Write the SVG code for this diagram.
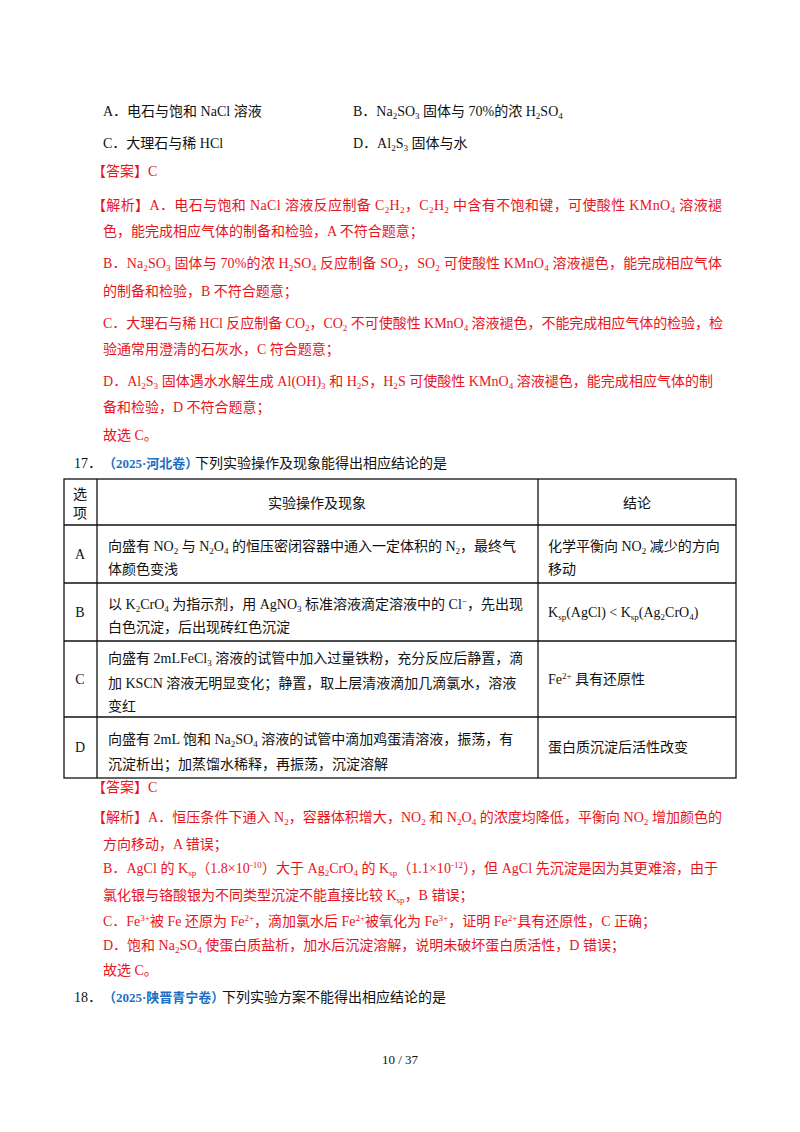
<svg xmlns="http://www.w3.org/2000/svg" width="800" height="1132" viewBox="0 0 800 1132">
<style>
text{font-family:"Liberation Serif","Noto Sans CJK SC",serif;font-size:14px;fill:#111}
.r{fill:#e8141c}
.b{fill:#1a6fc4;font-weight:bold;font-size:13px}
.s{font-size:9px}
.t{fill:none;stroke:#111;stroke-width:1.3}
</style>
<rect width="800" height="1132" fill="#fff"/>
<g id="options">
<text x="103" y="116">A．电石与饱和 NaCl 溶液</text>
<text x="353" y="116">B．Na<tspan class="s" dy="3">2</tspan><tspan dy="-3">SO</tspan><tspan class="s" dy="3">3</tspan><tspan dy="-3"> 固体与 70%的浓 H</tspan><tspan class="s" dy="3">2</tspan><tspan dy="-3">SO</tspan><tspan class="s" dy="3">4</tspan></text>
<text x="103" y="148">C．大理石与稀 HCl</text>
<text x="353" y="148">D．Al<tspan class="s" dy="3">2</tspan><tspan dy="-3">S</tspan><tspan class="s" dy="3">3</tspan><tspan dy="-3"> 固体与水</tspan></text>
</g>
<g id="answer16" class="r">
<text class="r" x="92" y="176">【答案】C</text>
<text class="r" x="92" y="210" textLength="630">【解析】A．电石与饱和 NaCl 溶液反应制备 C<tspan class="s" dy="3">2</tspan><tspan dy="-3">H</tspan><tspan class="s" dy="3">2</tspan><tspan dy="-3">，C</tspan><tspan class="s" dy="3">2</tspan><tspan dy="-3">H</tspan><tspan class="s" dy="3">2</tspan><tspan dy="-3"> 中含有不饱和键，可使酸性 KMnO</tspan><tspan class="s" dy="3">4</tspan><tspan dy="-3"> 溶液褪</tspan></text>
<text class="r" x="103" y="236">色，能完成相应气体的制备和检验，A 不符合题意；</text>
<text class="r" x="103" y="268" textLength="619">B．Na<tspan class="s" dy="3">2</tspan><tspan dy="-3">SO</tspan><tspan class="s" dy="3">3</tspan><tspan dy="-3"> 固体与 70%的浓 H</tspan><tspan class="s" dy="3">2</tspan><tspan dy="-3">SO</tspan><tspan class="s" dy="3">4</tspan><tspan dy="-3"> 反应制备 SO</tspan><tspan class="s" dy="3">2</tspan><tspan dy="-3">，SO</tspan><tspan class="s" dy="3">2</tspan><tspan dy="-3"> 可使酸性 KMnO</tspan><tspan class="s" dy="3">4</tspan><tspan dy="-3"> 溶液褪色，能完成相应气体</tspan></text>
<text class="r" x="103" y="296">的制备和检验，B 不符合题意；</text>
<text class="r" x="103" y="328" textLength="620">C．大理石与稀 HCl 反应制备 CO<tspan class="s" dy="3">2</tspan><tspan dy="-3">，CO</tspan><tspan class="s" dy="3">2</tspan><tspan dy="-3"> 不可使酸性 KMnO</tspan><tspan class="s" dy="3">4</tspan><tspan dy="-3"> 溶液褪色，不能完成相应气体的检验，检</tspan></text>
<text class="r" x="103" y="354">验通常用澄清的石灰水，C 符合题意；</text>
<text class="r" x="103" y="386" textLength="610">D．Al<tspan class="s" dy="3">2</tspan><tspan dy="-3">S</tspan><tspan class="s" dy="3">3</tspan><tspan dy="-3"> 固体遇水水解生成 Al(OH)</tspan><tspan class="s" dy="3">3</tspan><tspan dy="-3"> 和 H</tspan><tspan class="s" dy="3">2</tspan><tspan dy="-3">S，H</tspan><tspan class="s" dy="3">2</tspan><tspan dy="-3">S 可使酸性 KMnO</tspan><tspan class="s" dy="3">4</tspan><tspan dy="-3"> 溶液褪色，能完成相应气体的制</tspan></text>
<text class="r" x="103" y="412">备和检验，D 不符合题意；</text>
<text class="r" x="103" y="440">故选 C。</text>
</g>
<g id="q17">
<text x="74" y="468">17．</text>
<text class="b" x="103" y="468">（2025·河北卷）</text>
<text x="195" y="468">下列实验操作及现象能得出相应结论的是</text>
</g>
<g id="table">
<rect class="t" x="64" y="479" width="672" height="299"/>
<line class="t" x1="97" y1="479" x2="97" y2="778"/>
<line class="t" x1="538" y1="479" x2="538" y2="778"/>
<line class="t" x1="64" y1="525" x2="736" y2="525"/>
<line class="t" x1="64" y1="583" x2="736" y2="583"/>
<line class="t" x1="64" y1="641" x2="736" y2="641"/>
<line class="t" x1="64" y1="717" x2="736" y2="717"/>
<text x="80" y="499" text-anchor="middle">选</text>
<text x="80" y="518" text-anchor="middle">项</text>
<text x="317" y="508" text-anchor="middle">实验操作及现象</text>
<text x="637" y="508" text-anchor="middle">结论</text>
<text x="80" y="559" text-anchor="middle">A</text>
<text x="108" y="551">向盛有 NO<tspan class="s" dy="3">2</tspan><tspan dy="-3"> 与 N</tspan><tspan class="s" dy="3">2</tspan><tspan dy="-3">O</tspan><tspan class="s" dy="3">4</tspan><tspan dy="-3"> 的恒压密闭容器中通入一定体积的 N</tspan><tspan class="s" dy="3">2</tspan><tspan dy="-3">，最终气</tspan></text>
<text x="108" y="574">体颜色变浅</text>
<text x="548" y="551">化学平衡向 NO<tspan class="s" dy="3">2</tspan><tspan dy="-3"> 减少的方向</tspan></text>
<text x="548" y="574">移动</text>
<text x="80" y="617" text-anchor="middle">B</text>
<text x="108" y="609">以 K<tspan class="s" dy="3">2</tspan><tspan dy="-3">CrO</tspan><tspan class="s" dy="3">4</tspan><tspan dy="-3"> 为指示剂，用 AgNO</tspan><tspan class="s" dy="3">3</tspan><tspan dy="-3"> 标准溶液滴定溶液中的 Cl</tspan><tspan class="s" dy="-5">−</tspan><tspan dy="5">，先出现</tspan></text>
<text x="108" y="632">白色沉淀，后出现砖红色沉淀</text>
<text x="548" y="617">K<tspan class="s" dy="3">sp</tspan><tspan dy="-3">(AgCl) &lt; K</tspan><tspan class="s" dy="3">sp</tspan><tspan dy="-3">(Ag</tspan><tspan class="s" dy="3">2</tspan><tspan dy="-3">CrO</tspan><tspan class="s" dy="3">4</tspan><tspan dy="-3">)</tspan></text>
<text x="80" y="684" text-anchor="middle">C</text>
<text x="108" y="663">向盛有 2mLFeCl<tspan class="s" dy="3">3</tspan><tspan dy="-3"> 溶液的试管中加入过量铁粉，充分反应后静置，滴</tspan></text>
<text x="108" y="688">加 KSCN 溶液无明显变化；静置，取上层清液滴加几滴氯水，溶液</text>
<text x="108" y="711">变红</text>
<text x="548" y="684">Fe<tspan class="s" dy="-5">2+</tspan><tspan dy="5"> 具有还原性</tspan></text>
<text x="80" y="752" text-anchor="middle">D</text>
<text x="108" y="744">向盛有 2mL 饱和 Na<tspan class="s" dy="3">2</tspan><tspan dy="-3">SO</tspan><tspan class="s" dy="3">4</tspan><tspan dy="-3"> 溶液的试管中滴加鸡蛋清溶液，振荡，有</tspan></text>
<text x="108" y="769">沉淀析出；加蒸馏水稀释，再振荡，沉淀溶解</text>
<text x="548" y="752">蛋白质沉淀后活性改变</text>
</g>
<g id="answer17">
<text class="r" x="92" y="792">【答案】C</text>
<text class="r" x="92" y="822" textLength="630">【解析】A．恒压条件下通入 N<tspan class="s" dy="3">2</tspan><tspan dy="-3">，容器体积增大，NO</tspan><tspan class="s" dy="3">2</tspan><tspan dy="-3"> 和 N</tspan><tspan class="s" dy="3">2</tspan><tspan dy="-3">O</tspan><tspan class="s" dy="3">4</tspan><tspan dy="-3"> 的浓度均降低，平衡向 NO</tspan><tspan class="s" dy="3">2</tspan><tspan dy="-3"> 增加颜色的</tspan></text>
<text class="r" x="103" y="849">方向移动，A 错误；</text>
<text class="r" x="103" y="873" textLength="615">B．AgCl 的 K<tspan class="s" dy="3">sp</tspan><tspan dy="-3">（1.8×10</tspan><tspan class="s" dy="-5">-10</tspan><tspan dy="5">）大于 Ag</tspan><tspan class="s" dy="3">2</tspan><tspan dy="-3">CrO</tspan><tspan class="s" dy="3">4</tspan><tspan dy="-3"> 的 K</tspan><tspan class="s" dy="3">sp</tspan><tspan dy="-3">（1.1×10</tspan><tspan class="s" dy="-5">-12</tspan><tspan dy="5">），但 AgCl 先沉淀是因为其更难溶，由于</tspan></text>
<text class="r" x="103" y="900">氯化银与铬酸银为不同类型沉淀不能直接比较 K<tspan class="s" dy="3">sp</tspan><tspan dy="-3">，B 错误；</tspan></text>
<text class="r" x="103" y="926">C．Fe<tspan class="s" dy="-5">3+</tspan><tspan dy="5">被 Fe 还原为 Fe</tspan><tspan class="s" dy="-5">2+</tspan><tspan dy="5">，滴加氯水后 Fe</tspan><tspan class="s" dy="-5">2+</tspan><tspan dy="5">被氧化为 Fe</tspan><tspan class="s" dy="-5">3+</tspan><tspan dy="5">，证明 Fe</tspan><tspan class="s" dy="-5">2+</tspan><tspan dy="5">具有还原性，C 正确；</tspan></text>
<text class="r" x="103" y="950">D．饱和 Na<tspan class="s" dy="3">2</tspan><tspan dy="-3">SO</tspan><tspan class="s" dy="3">4</tspan><tspan dy="-3"> 使蛋白质盐析，加水后沉淀溶解，说明未破坏蛋白质活性，D 错误；</tspan></text>
<text class="r" x="103" y="975">故选 C。</text>
</g>
<g id="q18">
<text x="74" y="1002">18．</text>
<text class="b" x="103" y="1002">（2025·陕晋青宁卷）</text>
<text x="222" y="1002">下列实验方案不能得出相应结论的是</text>
</g>
<text x="400" y="1064" text-anchor="middle" style="font-size:13px">10 / 37</text>
</svg>
